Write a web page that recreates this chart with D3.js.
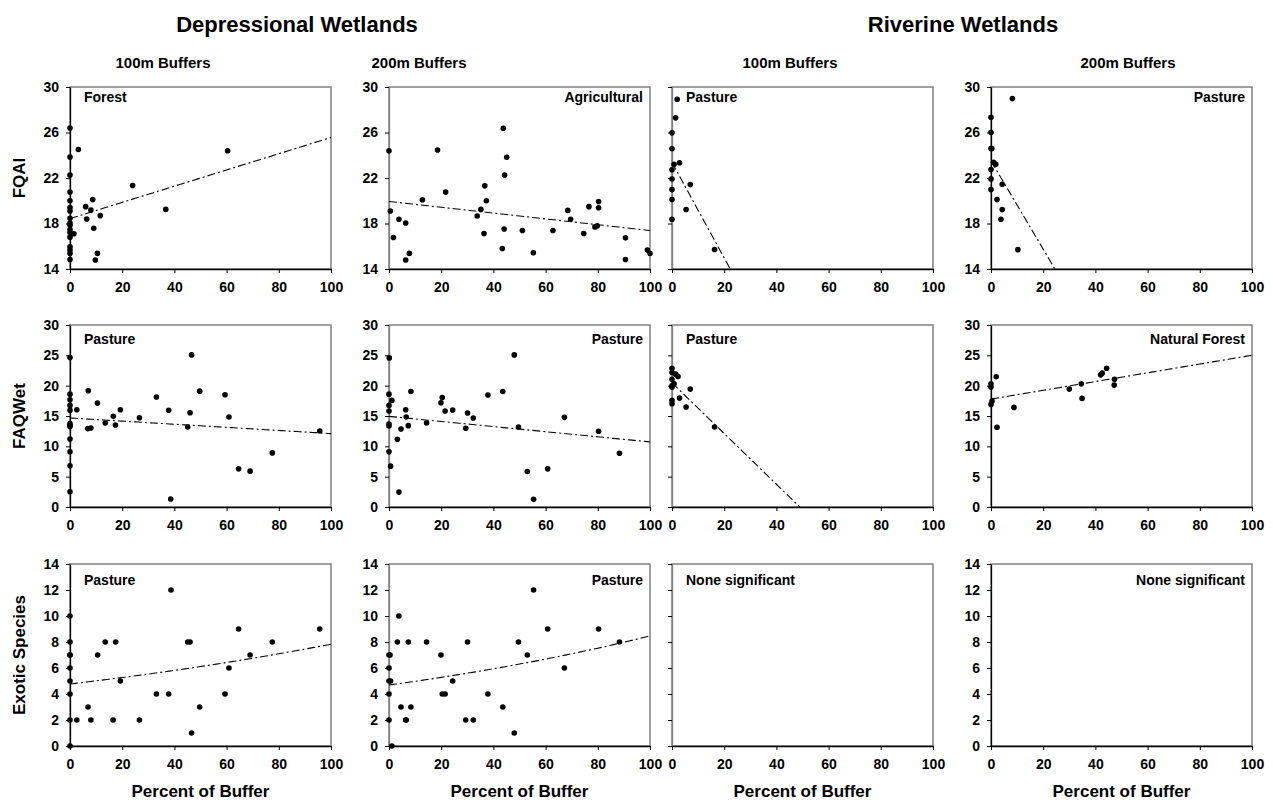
<!DOCTYPE html>
<html lang="en">
<head>
    <meta charset="UTF-8">
    <title>Wetland indices vs buffer land use</title>
    <script src="https://d3js.org/d3.v7.min.js"></script>
    <style>
        body { margin: 0; background: #fff; }
        svg text { font-family: "Liberation Sans", Arial, sans-serif; font-weight: bold; fill: #000; }
        .tick text { font-size: 14px; }
        .group_title { font-size: 22px; }
        .col_title { font-size: 15px; }
        .axis_label { font-size: 17px; }
        .panel_label { font-size: 14px; }
    </style>
</head>
<body>
<svg id="chart" width="1273" height="807"></svg>
<script>
    // ---- data: [percent of buffer, index value] ----
    let dep100Fqai = [[0,26.4],[3.2,24.5],[0,23.85],[0,22.27],[0,20.76],[0,20.0],[0,19.4],[0,19.1],[0,18.46],[0,18.05],
        [0,17.85],[0,17.47],[0,17.2],[0,16.8],[0,15.95],[0,15.66],[0,15.37],[0,14.84],[1.5,17.1],[6.0,19.48],[6.4,18.4],
        [8.7,20.1],[8.0,19.18],[9.1,17.58],[11.6,18.69],[10.5,15.37],[9.7,14.79],[24.0,21.34],[36.7,19.24],[60.4,24.4]]
    let dep200Fqai = [[0,24.4],[0.5,19.1],[1.7,16.77],[3.8,18.37],[6.4,18.05],[6.4,14.79],[7.8,15.37],[12.8,20.09],[18.6,24.46],
        [21.7,20.76],[33.8,18.66],[35.2,19.24],[36.7,21.31],[37.3,20.0],[36.4,17.12],[43.8,26.38],[45.1,23.82],[44.3,22.27],
        [44.1,17.52],[43.4,15.8],[51.1,17.38],[55.3,15.43],[62.8,17.38],[68.5,19.15],[69.6,18.37],[74.6,17.12],[76.6,19.48],
        [78.9,17.7],[79.8,17.8],[80.3,19.94],[80.3,19.39],[90.6,16.74],[90.6,14.84],[99.0,15.66],[100,15.37]]
    let riv100Fqai = [[2.0,28.92],[1.4,27.29],[0,25.97],[0,24.57],[0.8,23.2],[2.9,23.34],[0,22.73],[0,21.91],[7.0,21.42],
        [0,20.98],[0,20.1],[5.4,19.23],[0,18.38],[16.3,15.72]]
    let riv200Fqai = [[8.2,28.98],[0,27.34],[0,25.99],[0,24.6],[0.3,24.6],[1.0,23.38],[1.8,23.2],[0,22.74],[0,21.92],
        [4.3,21.45],[0,20.98],[2.3,20.1],[4.3,19.22],[3.8,18.37],[10.3,15.7]]

    let dep100Faq = [[0,24.63],[0,18.6],[0,17.68],[0,16.75],[0,15.93],[0,13.74],[0,13.46],[0,13.25],[0,11.22],[0,9.09],
        [0,6.79],[0,2.52],[2.6,16.04],[7.0,19.16],[6.8,12.92],[8.0,13.03],[10.5,17.13],[13.5,13.85],[16.6,14.94],[17.4,13.52],
        [19.3,16.04],[26.6,14.72],[33.1,18.12],[37.8,15.93],[38.6,1.31],[45.1,13.19],[46.0,15.54],[46.6,25.07],[49.7,19.1],
        [59.4,18.5],[60.9,14.83],[64.6,6.29],[69.0,5.91],[77.5,8.92],[95.7,12.53]]
    let dep200Faq = [[0.1,24.58],[0,18.6],[1.1,17.57],[0,16.75],[0,15.82],[0,13.68],[0,13.36],[0,9.09],[0.6,6.73],[3.8,2.46],
        [3.2,11.17],[4.6,12.86],[6.4,16.04],[6.6,14.83],[7.4,13.41],[8.4,19.05],[14.4,13.85],[19.9,17.19],[20.4,18.06],
        [21.5,15.82],[24.4,15.98],[29.4,12.97],[30.1,15.49],[32.3,14.67],[37.9,18.45],[43.6,19.05],[48.0,25.07],[49.6,13.19],
        [53.0,5.86],[55.4,1.26],[60.8,6.29],[67.2,14.78],[80.3,12.48],[88.3,8.87]]
    let riv100Faq = [[0,22.88],[0,22.17],[1.4,21.9],[2.3,21.5],[0,21.07],[0.8,20.3],[0,19.98],[0,19.76],[7.0,19.43],
        [2.9,17.95],[0,17.57],[0,17.02],[5.4,16.48],[16.3,13.19]]
    let riv200Faq = [[0,20.3],[0,19.76],[0,16.91],[0.4,17.46],[2.0,21.46],[2.3,13.14],[8.8,16.42],[30.0,19.43],[34.6,20.3],
        [34.9,17.9],[42.0,21.78],[42.6,22.06],[44.3,22.88],[47.2,20.09],[47.3,21.07]]

    let dep100Exotic = [[0,0],[0,2],[0,4],[0,5],[0,6],[0,7],[0,7],[0,8],[0,10],[2.6,2],[6.9,3],[8.0,2],[10.6,7],[13.5,8],
        [16.5,2],[17.5,8],[19.3,5],[26.6,2],[33.1,4],[37.8,4],[38.7,12],[45.1,8],[46.0,8],[46.6,1],[49.7,3],[59.4,4],
        [60.9,6],[64.6,9],[69.0,7],[77.5,8],[95.7,9]]
    let dep200Exotic = [[1.1,0],[0,2],[0,4],[0,5],[0.6,5],[0,6],[0,7],[0.4,7],[3.8,10],[3.2,8],[4.6,3],[6.4,2],[6.6,2],
        [7.4,8],[8.4,3],[14.4,8],[19.9,7],[20.4,4],[21.5,4],[24.4,5],[29.4,2],[30.1,8],[32.3,2],[37.9,4],[43.6,3],[48.0,1],
        [49.6,8],[53.0,7],[55.4,12],[60.8,9],[67.2,6],[80.3,9],[88.3,8]]
    let riv100Exotic = []
    let riv200Exotic = []

    // trend lines: [type, a, b]  linear y=a+b*x, exp y=a*e^(b*x)
    let trendFqai = [["lin",18.43,0.0713],["lin",19.94,-0.0256],["lin",23.37,-0.42],["lin",23.5,-0.388]]
    let trendFaq = [["lin",14.67,-0.0257],["lin",14.94,-0.0421],["lin",20.47,-0.418],["lin",17.79,0.0722]]
    let trendExotic = [["exp",4.77,0.00496],["exp",4.69,0.00591],null,null]

    let labelsFqai = ["Forest","Agricultural","Pasture","Pasture"]
    let labelsFaq = ["Pasture","Pasture","Pasture","Natural Forest"]
    let labelsExotic = ["Pasture","Pasture","None significant","None significant"]
    let labelSide = [["l","r","l","r"],["l","r","l","r"],["l","r","l","r"]]

    let rowNames = ["FQAI", "FAQWet", "Exotic Species"]
    let yDomains = [[14, 30], [0, 30], [0, 14]]
    let yTicks = [[14, 18, 22, 26, 30], [0, 5, 10, 15, 20, 25, 30], [0, 2, 4, 6, 8, 10, 12, 14]]
    let xTicks = [0, 20, 40, 60, 80, 100]
    let colTitles = ["100m Buffers", "200m Buffers", "100m Buffers", "200m Buffers"]
    let groupTitles = ["Depressional Wetlands", "Riverine Wetlands"]

    // ---- layout ----
    let colX = [70, 389, 672, 991]
    let rowY = [87, 325, 564]
    let pw = 261, ph = 182
    let colTitleX = [163, 419, 790, 1128]
    let groupTitleX = [297, 963]
    let leftAxisColor = ["#000", "#808080", "#808080", "#000"]
    let labelBase = [15, 19, 21]

    let rowsData = [
        [dep100Fqai, dep200Fqai, riv100Fqai, riv200Fqai],
        [dep100Faq, dep200Faq, riv100Faq, riv200Faq],
        [dep100Exotic, dep200Exotic, riv100Exotic, riv200Exotic]
    ]
    let rowsTrend = [trendFqai, trendFaq, trendExotic]
    let rowsLabels = [labelsFqai, labelsFaq, labelsExotic]

    let svg = d3.select("#chart")
    svg.append("rect").attr("width", 1273).attr("height", 807).attr("fill", "#fff")

    groupTitles.forEach((t, i) => {
        svg.append("text").attr("class", "group_title").attr("x", groupTitleX[i]).attr("y", 32)
            .attr("text-anchor", "middle").text(t)
    })
    colTitles.forEach((t, i) => {
        svg.append("text").attr("class", "col_title").attr("x", colTitleX[i]).attr("y", 68)
            .attr("text-anchor", "middle").text(t)
    })

    rowNames.forEach((name, r) => {
        svg.append("text").attr("class", "axis_label")
            .attr("transform", "translate(25," + (rowY[r] + ph / 2) + ") rotate(-90)")
            .attr("text-anchor", "middle").text(name)
    })

    colX.forEach((cx, c) => {
        svg.append("text").attr("class", "axis_label").attr("x", cx + pw / 2).attr("y", 797)
            .attr("text-anchor", "middle").text("Percent of Buffer")
    })

    for (let r = 0; r < 3; r++) {
        for (let c = 0; c < 4; c++) {
            let x = d3.scaleLinear().domain([0, 100]).range([0, pw])
            let y = d3.scaleLinear().domain(yDomains[r]).range([ph, 0])
            let g = svg.append("g").attr("transform", "translate(" + colX[c] + "," + rowY[r] + ")")
            let clipId = "clip_" + r + "_" + c
            g.append("clipPath").attr("id", clipId).append("rect").attr("width", pw).attr("height", ph)

            // plot border
            g.append("rect").attr("width", pw).attr("height", ph)
                .attr("fill", "none").attr("stroke", "#808080").attr("stroke-width", 1.5)

            let yAxis = d3.axisLeft(y).tickValues(yTicks[r]).tickSize(4).tickSizeOuter(0).tickPadding(7)
            if (c === 2) yAxis.tickFormat("")
            let ya = g.append("g").call(yAxis)
            ya.select(".domain").attr("stroke", leftAxisColor[c]).attr("stroke-width", 1.3)
            ya.selectAll(".tick line").attr("stroke", "#000")

            let xa = g.append("g").attr("transform", "translate(0," + ph + ")")
                .call(d3.axisBottom(x).tickValues(xTicks).tickSize(4).tickSizeOuter(0).tickPadding(9))
            xa.select(".domain").attr("stroke", "#000").attr("stroke-width", 1.3)

            // trend line
            let tr = rowsTrend[r][c]
            if (tr) {
                let xs = d3.range(0, 100.01, 1)
                let f = tr[0] === "lin" ? (v => tr[1] + tr[2] * v) : (v => tr[1] * Math.exp(tr[2] * v))
                g.append("path")
                    .datum(xs)
                    .attr("clip-path", "url(#" + clipId + ")")
                    .attr("fill", "none").attr("stroke", "#000").attr("stroke-width", 1.1)
                    .attr("stroke-dasharray", "8,3,2,3")
                    .attr("d", d3.line().x(v => x(v)).y(v => y(f(v))))
            }

            g.selectAll("circle").data(rowsData[r][c]).enter().append("circle")
                .attr("cx", d => x(d[0])).attr("cy", d => y(d[1])).attr("r", 2.8).attr("fill", "#000")

            let side = labelSide[r][c]
            g.append("text").attr("class", "panel_label")
                .attr("x", side === "l" ? 14 : pw - 7)
                .attr("y", labelBase[r])
                .attr("text-anchor", side === "l" ? "start" : "end")
                .text(rowsLabels[r][c])
        }
    }
</script>
</body>
</html>
